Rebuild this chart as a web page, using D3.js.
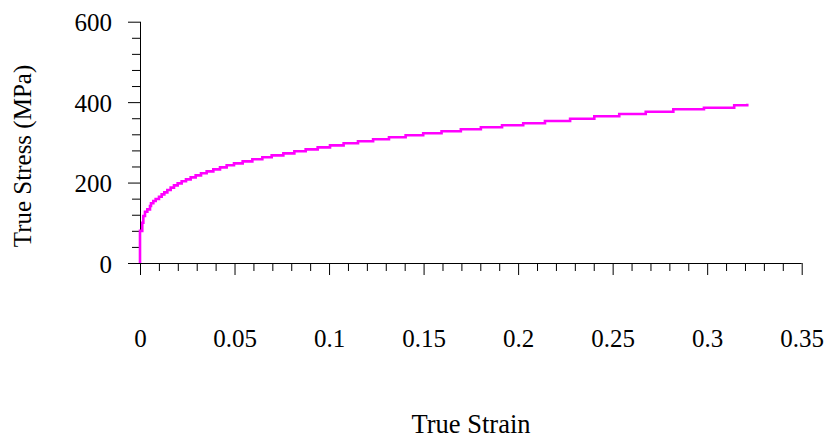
<!DOCTYPE html>
<html>
<head>
<meta charset="utf-8">
<script src="https://cdn.jsdelivr.net/npm/d3@7"></script>
<style>
  html, body { margin: 0; padding: 0; background: #fff; }
  svg { display: block; }
  text { font-family: "Liberation Serif", "Times New Roman", serif; fill: #000; }
</style>
</head>
<body>
<svg id="chart" width="827" height="448"></svg>
<script>
// ---- data ----
const strain = [0, 0, 0.0012, 0.00176, 0.00264, 0.00388, 0.00529, 0.00582, 0.00705, 0.00829,
  0.01005, 0.01146, 0.01287, 0.01446, 0.01622, 0.01798, 0.01992, 0.02204, 0.02433, 0.0268,
  0.02944, 0.03227, 0.03526, 0.03879, 0.04232, 0.04584, 0.04972, 0.05431, 0.05942, 0.06471,
  0.06965, 0.07582, 0.08164, 0.08763, 0.09398, 0.1005, 0.1077, 0.1153, 0.1233, 0.1317,
  0.1405, 0.1498, 0.1595, 0.1697, 0.1803, 0.1915, 0.2027, 0.2142, 0.2275, 0.2403,
  0.2535, 0.2675, 0.2821, 0.2983, 0.3143, 0.3212];
const stress = [0, 80, 100, 116.9, 127.6, 133.4, 141.7, 148.4, 154.2, 159.1,
  164.9, 170.7, 175.7, 181.5, 187.3, 193.1, 198.1, 203.1, 208.0, 213.0,
  218.0, 223.0, 227.9, 232.9, 237.9, 242.9, 247.8, 252.8, 257.8, 262.8,
  267.7, 272.7, 277.7, 282.6, 287.6, 292.6, 297.6, 302.6, 307.6, 312.6,
  317.6, 322.6, 327.6, 332.6, 337.6, 342.6, 347.4, 353.1, 358.8, 364.8,
  370.5, 376.2, 382.2, 386.1, 392.1, 396.1];
const xMajorTicks = [0, 0.05, 0.1, 0.15, 0.2, 0.25, 0.3, 0.35];
const xTickLabels = ["0", "0.05", "0.1", "0.15", "0.2", "0.25", "0.3", "0.35"];
const xMinorTicks = [0.01,0.02,0.03,0.04,0.06,0.07,0.08,0.09,0.11,0.12,0.13,0.14,0.16,0.17,0.18,0.19,
  0.21,0.22,0.23,0.24,0.26,0.27,0.28,0.29,0.31,0.32,0.33,0.34];
const yMajorTicks = [0, 200, 400, 600];
const yTickLabels = ["0", "200", "400", "600"];
const yMinorTicks = [40, 80, 120, 160, 240, 280, 320, 360, 440, 480, 520, 560];
const xTitle = "True Strain";
const yTitle = "True Stress (MPa)";

// ---- drawing ----
const svg = d3.select("#chart");
const x = d3.scaleLinear().domain([0, 0.35]).range([140, 801.7]);
const y = d3.scaleLinear().domain([0, 600]).range([263, 21.7]);
const FS = 25;

function styleAxis(g) {
  g.selectAll(".domain").remove();
  g.selectAll("line").attr("stroke", "#000");
}

// x axis
const gxMinor = svg.append("g").attr("transform", "translate(0,263)")
  .call(d3.axisBottom(x).tickValues(xMinorTicks).tickSize(8).tickFormat(""));
styleAxis(gxMinor);
const gx = svg.append("g").attr("transform", "translate(0,263)")
  .call(d3.axisBottom(x).tickValues(xMajorTicks).tickSize(12).tickFormat((d, i) => xTickLabels[i]));
styleAxis(gx);
gx.selectAll("text")
  .attr("y", 84).attr("dy", null)
  .style("font-size", FS + "px")
  .style("font-family", "'Liberation Serif', serif")
  .attr("fill", "#000");
svg.append("path")
  .attr("d", `M${x(0)},263.5H${x(0.35)}`)
  .attr("stroke", "#000").attr("fill", "none");

// y axis
const gyMinor = svg.append("g").attr("transform", "translate(140,0)")
  .call(d3.axisLeft(y).tickValues(yMinorTicks).tickSize(8).tickFormat(""));
styleAxis(gyMinor);
const gy = svg.append("g").attr("transform", "translate(140,0)")
  .call(d3.axisLeft(y).tickValues(yMajorTicks).tickSize(12).tickFormat((d, i) => yTickLabels[i]));
styleAxis(gy);
gy.selectAll("text")
  .attr("x", -28).attr("dy", "0.36em")
  .style("font-size", FS + "px")
  .style("font-family", "'Liberation Serif', serif")
  .attr("fill", "#000");
svg.append("path")
  .attr("d", `M140.5,${y(0)}V${y(600)}`)
  .attr("stroke", "#000").attr("fill", "none");

// curve
const pts = strain.map((s, i) => [s, stress[i]]);
const line = d3.line().x(d => x(d[0])).y(d => y(d[1])).curve(d3.curveStepAfter);
svg.append("path")
  .datum(pts)
  .attr("d", line)
  .attr("fill", "none")
  .attr("stroke", "#ff00ff")
  .attr("stroke-width", 2.6);

// titles
svg.append("text")
  .attr("x", 471).attr("y", 433)
  .attr("text-anchor", "middle")
  .style("font-size", "26.5px")
  .text(xTitle);
svg.append("text")
  .attr("transform", "translate(31,156) rotate(-90)")
  .attr("text-anchor", "middle")
  .style("font-size", FS + "px")
  .text(yTitle);
</script>
</body>
</html>
